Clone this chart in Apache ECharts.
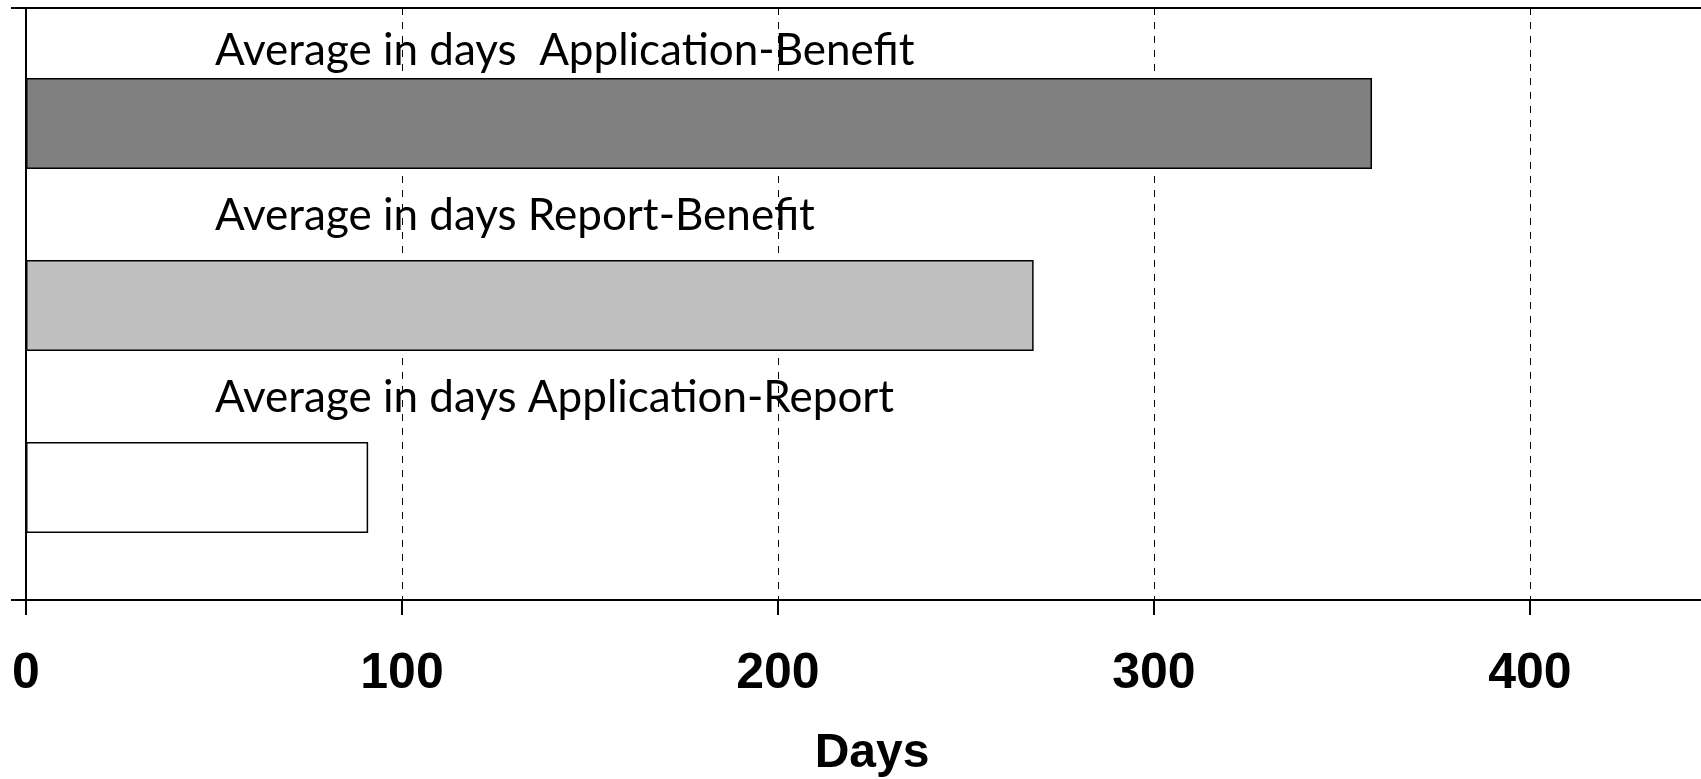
<!DOCTYPE html>
<html>
<head>
<meta charset="utf-8">
<style>
  html, body { margin: 0; padding: 0; background: #ffffff; }
  #chart { width: 1701px; height: 779px; }
</style>
<script src="https://cdn.jsdelivr.net/npm/echarts@6/dist/echarts.min.js"></script>
</head>
<body>
<div id="chart"></div>
<script>
// Average durations, in days
const categories = [
  'Average in days  Application-Benefit',
  'Average in days Report-Benefit',
  'Average in days Application-Report'
];
const averageDays = [358, 268, 91];
const axisMin = 0;
const axisMax = 445.5;
const axisStep = 100;
const axisTitle = 'Days';

// Presentation: bar fills and label offsets (relative to each bar's top-left)
const barFills = ['#808080', '#c0c0c0', '#ffffff'];
const labelOffsets = [[189, -27], [189, -44], [189, -44]];

const tickFont = '"Liberation Sans", Arial, sans-serif';
const labelFont = 'Lato, "Open Sans", sans-serif';

const barData = averageDays.map((v, i) => ({
  value: v,
  itemStyle: { color: barFills[i] },
  label: { position: labelOffsets[i] }
}));

const chart = echarts.init(document.getElementById('chart'), null, { renderer: 'canvas' });

chart.setOption({
  backgroundColor: '#ffffff',
  animation: false,
  grid: [
    // frame: axes, ticks and dashed grid lines
    { left: 26, top: 8, right: 0, height: 592, containLabel: false, outerBoundsMode: 'none' },
    // bars
    { left: 26, top: 32.4, right: 0, height: 546, containLabel: false, outerBoundsMode: 'none' }
  ],
  xAxis: [
    {
      gridIndex: 0,
      type: 'value',
      position: 'bottom',
      min: axisMin,
      max: axisMax,
      interval: axisStep,
      name: axisTitle,
      nameLocation: 'middle',
      nameGap: 130,
      nameTextStyle: {
        fontFamily: tickFont, fontWeight: 'bold', fontSize: 48, color: '#000',
        padding: [0, 0, 0, 17]
      },
      axisLine: { show: true, lineStyle: { color: '#000', width: 2 } },
      axisTick: { show: true, length: 15, inside: false, lineStyle: { color: '#000', width: 2 } },
      axisLabel: {
        show: true, margin: 49, showMaxLabel: false,
        fontFamily: tickFont, fontWeight: 'bold', fontSize: 50, color: '#000'
      },
      splitLine: { show: true, lineStyle: { color: '#000', width: 1, type: [7, 7] } }
    },
    {
      gridIndex: 0,
      type: 'value',
      position: 'top',
      min: axisMin,
      max: axisMax,
      interval: axisStep,
      axisLine: { show: true, onZero: false, lineStyle: { color: '#000', width: 2 } },
      axisTick: { show: false },
      axisLabel: { show: false },
      splitLine: { show: false }
    },
    {
      gridIndex: 1,
      type: 'value',
      min: axisMin,
      max: axisMax,
      show: false
    }
  ],
  yAxis: [
    {
      gridIndex: 0,
      type: 'value',
      min: 0,
      max: 1,
      interval: 1,
      axisLine: { show: true, onZero: false, lineStyle: { color: '#000', width: 2 } },
      axisTick: { show: true, length: 15, inside: false, lineStyle: { color: '#000', width: 2 } },
      axisLabel: { show: false },
      splitLine: { show: false }
    },
    {
      gridIndex: 1,
      type: 'category',
      inverse: true,
      data: categories,
      show: false
    }
  ],
  series: [
    {
      type: 'bar',
      xAxisIndex: 2,
      yAxisIndex: 1,
      data: barData,
      barWidth: '50%',
      itemStyle: { borderColor: '#000', borderWidth: 1.5 },
      label: {
        show: true,
        formatter: '{b}',
        align: 'left',
        verticalAlign: 'middle',
        fontFamily: labelFont,
        fontSize: 44,
        color: '#000'
      },
      z: 3
    }
  ]
});
</script>
</body>
</html>
